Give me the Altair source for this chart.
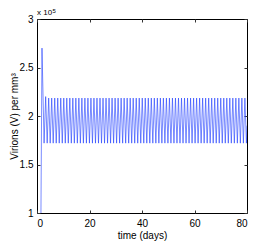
import altair as alt
import pandas as pd

# initial transient (time in days, virions in units of 1e5 per mm^3)
start_t = [0.0, 1.2, 1.5, 1.9, 2.7]
start_v = [0.3, 0.6, 1.0, 2.7, 1.72]

# oscillation peaks and troughs
peak_times = [3.3, 4.45, 5.6, 6.75, 7.9, 9.05, 10.2, 11.35, 12.5, 13.65, 14.8, 15.95,
              17.1, 18.25, 19.4, 20.55, 21.7, 22.85, 24.0, 25.15, 26.3, 27.45, 28.6,
              29.75, 30.9, 32.05, 33.2, 34.35, 35.5, 36.65, 37.8, 38.95, 40.1, 41.25,
              42.4, 43.55, 44.7, 45.85, 47.0, 48.15, 49.3, 50.45, 51.6, 52.75, 53.9,
              55.05, 56.2, 57.35, 58.5, 59.65, 60.8, 61.95, 63.1, 64.25, 65.4, 66.55,
              67.7, 68.85, 70.0, 71.15, 72.3, 73.45, 74.6, 75.75, 76.9, 78.05, 79.2]
trough_times = [3.875, 5.025, 6.175, 7.325, 8.475, 9.625, 10.775, 11.925, 13.075, 14.225,
                15.375, 16.525, 17.675, 18.825, 19.975, 21.125, 22.275, 23.425, 24.575,
                25.725, 26.875, 28.025, 29.175, 30.325, 31.475, 32.625, 33.775, 34.925,
                36.075, 37.225, 38.375, 39.525, 40.675, 41.825, 42.975, 44.125, 45.275,
                46.425, 47.575, 48.725, 49.875, 51.025, 52.175, 53.325, 54.475, 55.625,
                56.775, 57.925, 59.075, 60.225, 61.375, 62.525, 63.675, 64.825, 65.975,
                67.125, 68.275, 69.425, 70.575, 71.725, 72.875, 74.025, 75.175, 76.325,
                77.475, 78.625, 79.775]
first_peak_level = 2.2
peak_level = 2.185
trough_level = 1.72
end_t = [80.0]
end_v = [1.9]

x_ticks = [0, 20, 40, 60, 80]
y_ticks = [1, 1.5, 2, 2.5, 3]

rows = [(t, v) for t, v in zip(start_t, start_v)]
for i, t in enumerate(peak_times):
    rows.append((t, first_peak_level if i == 0 else peak_level))
for t in trough_times:
    rows.append((t, trough_level))
rows += list(zip(end_t, end_v))
rows.sort(key=lambda r: r[0])
df = pd.DataFrame(rows, columns=["t", "v"])
df["i"] = range(len(df))

FONT = "Liberation Sans"
xs = alt.Scale(domain=[0, 80], nice=False, zero=False)
ys = alt.Scale(domain=[1, 3], nice=False, zero=False)

line = alt.Chart(df).mark_line(color="#1f3cff", strokeWidth=0.6, clip=True).encode(
    x=alt.X("t:Q", scale=xs,
            axis=alt.Axis(values=x_ticks, title="time (days)", orient="bottom", offset=-3,
                          tickSize=3, domain=False, grid=False, labelPadding=5,
                          titlePadding=2, format="d")),
    y=alt.Y("v:Q", scale=ys,
            axis=alt.Axis(values=y_ticks, title="Virions (V) per mm³", orient="left", offset=-3,
                          tickSize=3, domain=False, grid=False, labelPadding=4,
                          titlePadding=0, format="~g")),
    order="i:Q",
)

frame_ticks = alt.Chart(df).mark_line(opacity=0).encode(
    x=alt.X("t:Q", scale=xs,
            axis=alt.Axis(values=x_ticks, title=None, orient="top", offset=-3, tickSize=3,
                          domain=False, grid=False, labels=False)),
    y=alt.Y("v:Q", scale=ys,
            axis=alt.Axis(values=y_ticks, title=None, orient="right", offset=-3, tickSize=3,
                          domain=False, grid=False, labels=False)),
    order="i:Q",
)

expo = alt.Chart(df.head(1)).mark_text(
    text="x 10", font=FONT, fontSize=8, align="left", baseline="alphabetic", color="black"
).encode(x=alt.value(0), y=alt.value(-4))
expo5 = alt.Chart(df.head(1)).mark_text(
    text="5", font=FONT, fontSize=6, align="left", baseline="alphabetic", color="black"
).encode(x=alt.value(15.5), y=alt.value(-6.5))

chart = alt.layer(line, frame_ticks, expo, expo5).resolve_axis(
    x="independent", y="independent"
).properties(
    width=210, height=194,
    autosize=alt.AutoSizeParams(type="none"),
    padding={"left": 29, "top": 11, "right": 18, "bottom": 32},
).configure_view(stroke="black", strokeWidth=1).configure_axis(
    labelFont=FONT, titleFont=FONT, labelFontSize=10, titleFontSize=10,
    labelColor="black", titleColor="black", tickColor="#333333", titleFontWeight="normal",
)

chart.save("out.html", embed_options={"renderer": "svg", "actions": False})
